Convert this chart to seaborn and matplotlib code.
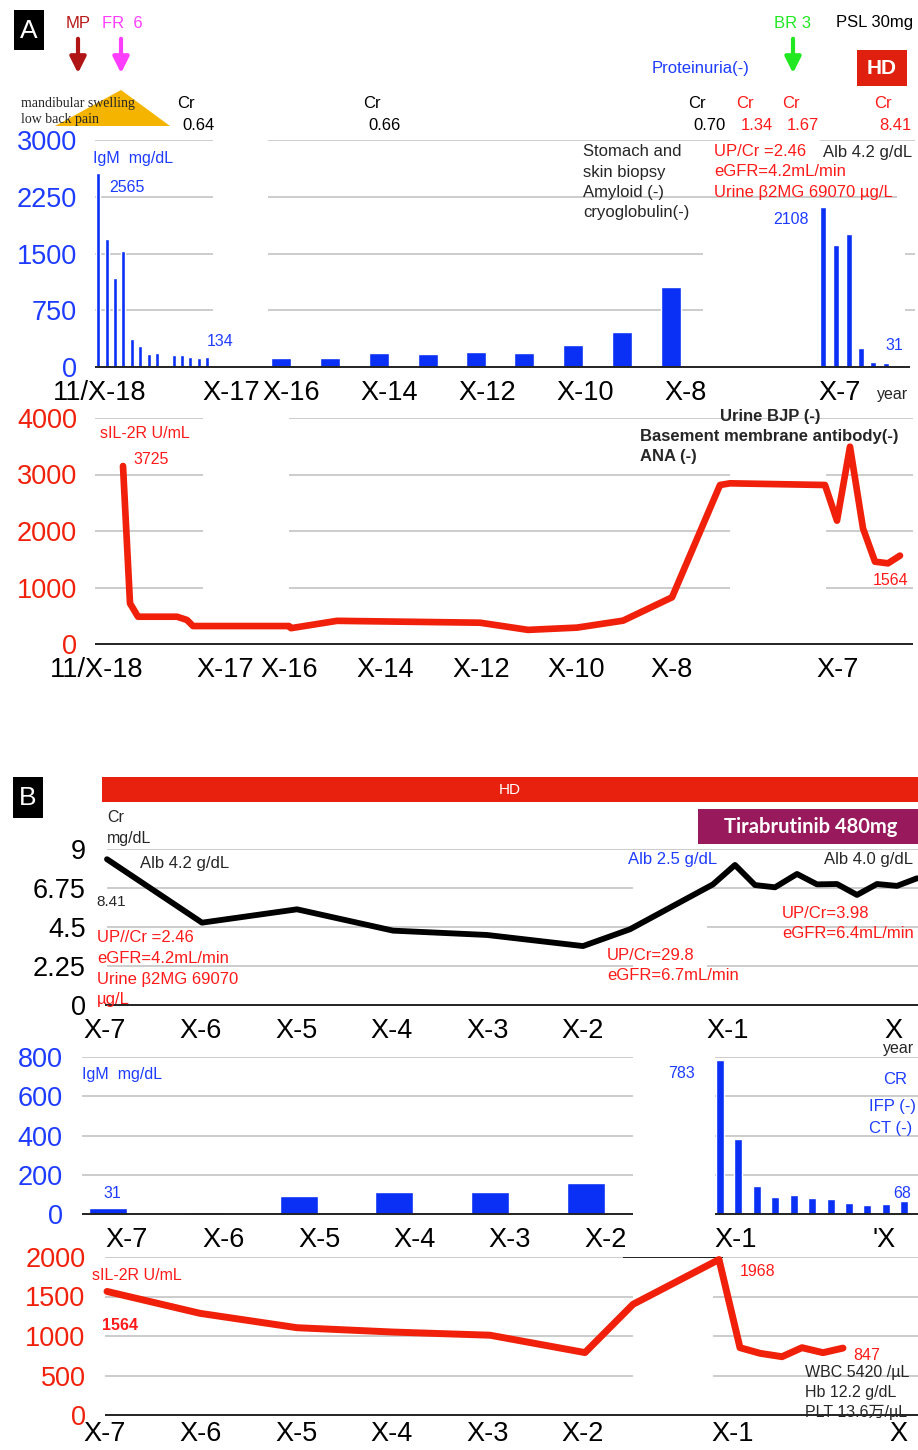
import matplotlib
matplotlib.use("Agg")
import matplotlib.pyplot as plt
from matplotlib.patches import Polygon, Rectangle, FancyArrowPatch
import seaborn as sns
import pandas as pd

W, H = 918, 1450

# ---- panel A : IgM (mg/dL); x = position on the chart's timeline ----
a_igm_early_t = [98, 107, 115, 123, 132, 140, 149, 157, 174, 182, 190, 199, 207]
a_igm_early_v = [2565, 1690, 1170, 1530, 370, 280, 170, 190, 155, 155, 136, 123, 134]
a_igm_year_t = [281, 330, 379, 428, 476, 524, 573, 622, 671]
a_igm_year_v = [125, 125, 185, 170, 200, 185, 290, 460, 1055]
a_igm_late_t = [823, 836, 849, 861, 873, 886, 898]
a_igm_late_v = [2108, 1610, 1760, 250, 70, 50, 31]
a_igm_ticks = [100, 231, 291, 389, 487, 585, 686, 840]
a_igm_ticklabels = ["11/X-18", "X-17", "X-16", "X-14", "X-12", "X-10", "X-8", "X-7"]

# ---- panel A : sIL-2R (U/mL) ----
a_sil_t = [123, 130, 138, 177, 187, 193, 289, 291, 337, 480, 528, 577, 623, 672,
           720, 730, 825, 837, 850, 863, 875, 888, 900]
a_sil_v = [3150, 720, 483, 483, 425, 318, 318, 280, 410, 377, 250, 290, 413, 826,
           2814, 2844, 2814, 2183, 3492, 2047, 1457, 1428, 1564]
a_sil_ticks = [97, 225, 289, 385, 481, 576, 672, 838]
a_sil_ticklabels = ["11/X-18", "X-17", "X-16", "X-14", "X-12", "X-10", "X-8", "X-7"]

# ---- panel B : Cr (mg/dL) ----
b_cr_t = [107, 202, 297, 393, 487, 583, 630, 713, 735, 755, 775, 797, 817, 837, 857, 877, 897, 917]
b_cr_v = [8.41, 4.75, 5.52, 4.29, 4.04, 3.40, 4.37, 6.96, 8.08, 6.92, 6.79, 7.56, 6.96, 6.98,
          6.35, 6.98, 6.87, 7.31]
b_cr_ticks = [105, 201, 297, 392, 488, 583, 728, 893]
b_cr_ticklabels = ["X-7", "X-6", "X-5", "X-4", "X-3", "X-2", "X-1", "X"]

# ---- panel B : IgM (mg/dL) ----
b_igm_year_t = [108, 204, 299, 394, 490, 586]
b_igm_year_v = [31, 12, 93, 110, 112, 160]
b_igm_month_t = [720, 738, 757, 775, 794, 812, 831, 849, 867, 886, 904]
b_igm_month_v = [783, 382, 141, 87, 95, 81, 75, 56, 47, 52, 68]
b_igm_ticks = [127, 224, 320, 415, 510, 606, 736, 884]
b_igm_ticklabels = ["X-7", "X-6", "X-5", "X-4", "X-3", "X-2", "X-1", "'X"]

# ---- panel B : sIL-2R (U/mL) ----
b_sil_t = [107, 200, 297, 393, 490, 585, 633, 719, 740, 760, 782, 802, 823, 843]
b_sil_v = [1564, 1287, 1105, 1050, 1010, 790, 1401, 1968, 852, 781, 738, 852, 789, 847]
b_sil_ticks = [105, 201, 297, 392, 488, 583, 733, 898]
b_sil_ticklabels = ["X-7", "X-6", "X-5", "X-4", "X-3", "X-2", "X-1", "X"]

BLUE = "#0B30F5"
BLUE_T = "#1E3CFF"
RED = "#F0200A"
RED_T = "#FF1A1A"
GRID = "#c4c4c4"
FS = 12

sns.set_theme(style="white")
plt.rcParams["font.family"] = ["Liberation Sans", "Noto Sans CJK JP", "DejaVu Sans"]

fig = plt.figure(figsize=(W / 100, H / 100), dpi=100)


def panel(left, right, top, bottom, ymax, yticks, ylabels, ycolor, ypad, xpad=9.5):
    ax = fig.add_axes([left / W, 1 - bottom / H, (right - left) / W, (bottom - top) / H])
    ax.set_xlim(left, right)
    ax.set_ylim(0, ymax)
    ax.patch.set_alpha(0)
    for s in ax.spines.values():
        s.set_visible(False)
    ax.set_yticks(yticks, ylabels)
    ax.tick_params(axis="y", length=0, pad=ypad, labelsize=19.5, labelcolor=ycolor)
    ax.tick_params(axis="x", length=0, pad=xpad, labelsize=19.5, labelcolor="black")
    ax.grid(False)
    return ax


def grid(ax, segs):
    for level, parts in segs.items():
        for x0, x1 in parts:
            ax.hlines(level, x0, x1, color=GRID, lw=1.2, zorder=0)


def base(ax, parts, color="#222222"):
    for x0, x1 in parts:
        ax.hlines(0, x0, x1, color=color, lw=1.4, zorder=3, clip_on=False)


def txt(x, y, s, **kw):
    kw.setdefault("va", "center")
    kw.setdefault("fontsize", FS)
    fig.text(x / W, 1 - y / H, s, **kw)


def lines(x, y, texts, step=20, **kw):
    for i, s in enumerate(texts):
        txt(x, y + i * step, s, **kw)


def box(x0, y0, x1, y1, color):
    fig.add_artist(Rectangle((x0 / W, 1 - y1 / H), (x1 - x0) / W, (y1 - y0) / H,
                             transform=fig.transFigure, color=color, lw=0))


def arrow(x, y0, y1, color):
    fig.add_artist(FancyArrowPatch((x / W, 1 - y0 / H), (x / W, 1 - y1 / H),
                                   transform=fig.transFigure, arrowstyle="-|>",
                                   mutation_scale=24, lw=3, color=color))


def line_panel(ax, t, v, color, lw):
    sns.lineplot(data=pd.DataFrame({"t": t, "v": v}), x="t", y="v", ax=ax,
                 color=color, lw=lw, clip_on=False, zorder=4)
    ax.set_xlabel("")
    ax.set_ylabel("")


# ================= Panel A : IgM =================
ax1 = panel(95, 915, 140, 367, 3000, [0, 750, 1500, 2250, 3000],
            ["0", "750", "1500", "2250", "3000"], BLUE_T, 13)
grid(ax1, {3000: [(95, 213), (268, 730), (820, 915)],
           2250: [(95, 213), (268, 897)],
           1500: [(95, 213), (268, 703), (905, 915)],
           750: [(95, 213), (268, 703), (905, 915)]})
ax1.bar(a_igm_early_t, a_igm_early_v, width=4, color=BLUE, zorder=2)
ax1.bar(a_igm_year_t, a_igm_year_v, width=20, color=BLUE, zorder=2)
ax1.bar(a_igm_late_t, a_igm_late_v, width=5.5, color=BLUE, zorder=2)
base(ax1, [(95, 910)])
ax1.set_xticks(a_igm_ticks, a_igm_ticklabels)

# ================= Panel A : sIL-2R =================
ax2 = panel(95, 915, 418, 644, 4000, [0, 1000, 2000, 3000, 4000],
            ["0", "1000", "2000", "3000", "4000"], RED, 13)
grid(ax2, {4000: [(95, 203), (289, 913)],
           3000: [(95, 203), (289, 730), (826, 913)],
           2000: [(95, 203), (289, 730), (826, 913)],
           1000: [(95, 203), (289, 730), (826, 913)]})
base(ax2, [(95, 913)])
line_panel(ax2, a_sil_t, a_sil_v, RED, 4.8)
ax2.set_xticks(a_sil_ticks, a_sil_ticklabels)

# ================= Panel B : Cr =================
ax3 = panel(105, 918, 849, 1005, 9, [0, 2.25, 4.5, 6.75, 9],
            ["0", "2.25", "4.5", "6.75", "9"], "black", 14)
grid(ax3, {9: [(107, 918)],
           6.75: [(107, 633), (707, 918)],
           4.5: [(107, 633), (707, 918)],
           2.25: [(107, 633), (707, 918)]})
base(ax3, [(105, 918)])
line_panel(ax3, b_cr_t, b_cr_v, "black", 4.2)
ax3.set_xticks(b_cr_ticks, b_cr_ticklabels)

# ================= Panel B : IgM =================
ax4 = panel(82, 918, 1057, 1214, 800, [0, 200, 400, 600, 800],
            ["0", "200", "400", "600", "800"], BLUE_T, 14)
grid(ax4, {lv: [(82, 633), (715, 918)] for lv in [200, 400, 600, 800]})
ax4.bar(b_igm_year_t, b_igm_year_v, width=38, color=BLUE, zorder=2)
ax4.bar(b_igm_month_t, b_igm_month_v, width=8, color=BLUE, zorder=2)
base(ax4, [(82, 633), (715, 918)])
ax4.set_xticks(b_igm_ticks, b_igm_ticklabels)

# ================= Panel B : sIL-2R =================
ax5 = panel(105, 918, 1257, 1415, 2000, [0, 500, 1000, 1500, 2000],
            ["0", "500", "1000", "1500", "2000"], RED, 14, xpad=4)
grid(ax5, {2000: [(105, 918)],
           1500: [(105, 633), (713, 918)],
           1000: [(105, 633), (713, 918)],
           500: [(105, 633), (713, 918)]})
ax5.hlines(2000, 623, 723, color="#222222", lw=1.4, zorder=1)
base(ax5, [(105, 918)])
line_panel(ax5, b_sil_t, b_sil_v, RED, 5)
ax5.set_xticks(b_sil_ticks, b_sil_ticklabels)

# ================= Panel A annotations =================
box(14, 10, 44, 50, "black")
txt(29, 31, "A", color="white", fontsize=19, ha="center")
txt(78, 23, "MP", color="#B81818", ha="center")
arrow(78, 36, 76, "#B01414")
txt(102, 23, "FR  6", color="#FF3DFF")
arrow(121, 36, 76, "#FF3DFF")
txt(792, 23, "BR 3", color="#22E822", ha="center")
arrow(793, 36, 76, "#22E822")
txt(836, 23, "PSL 30mg", color="black")
box(857, 50, 907, 86, "#E0200E")
txt(882, 68, "HD", color="white", fontsize=15, fontweight="bold", ha="center")
txt(652, 69, "Proteinuria(-)", color=BLUE_T)

fig.add_artist(Polygon([(55 / W, 1 - 126 / H), (121 / W, 1 - 90 / H), (170 / W, 1 - 126 / H)],
                       closed=True, transform=fig.transFigure, color="#F5B400", lw=0))
txt(21, 103, "mandibular swelling", family="Liberation Serif", fontsize=10)
txt(21, 120, "low back pain", family="Liberation Serif", fontsize=10)

for cx, val, col in [(177, "0.64", "black"), (363, "0.66", "black"), (688, "0.70", "black"),
                     (736, "1.34", RED_T), (782, "1.67", RED_T), (874, "8.41", RED_T)]:
    txt(cx, 104, "Cr", color=col)
    txt(cx + 5, 125, val, color=col)

txt(93, 159, "IgM  mg/dL", color=BLUE_T, fontsize=11.5)
txt(109, 187, "2565", color=BLUE_T, fontsize=11.5)
txt(207, 342, "134", color=BLUE_T, fontsize=11.5)
lines(583, 152, ["Stomach and", "skin biopsy", "Amyloid (-)", "cryoglobulin(-)"])
lines(714, 152, ["UP/Cr =2.46", "eGFR=4.2mL/min", "Urine β2MG 69070 µg/L"], color=RED_T)
txt(823, 152, "Alb 4.2 g/dL")
txt(773, 220, "2108", color=BLUE_T, fontsize=11.5)
txt(885, 345, "31", color=BLUE_T, fontsize=11.5)
txt(877, 394, "year", fontsize=11.5)

txt(100, 434, "sIL-2R U/mL", color=RED_T, fontsize=11.5)
txt(133, 460, "3725", color=RED_T, fontsize=11.5)
txt(720, 416, "Urine BJP (-)", fontweight="bold")
txt(640, 436, "Basement membrane antibody(-)", fontweight="bold")
txt(640, 457, "ANA (-)", fontweight="bold")
txt(873, 581, "1564", color=RED_T, fontsize=11.5)

# ================= Panel B annotations =================
box(13, 777, 43, 818, "black")
txt(28, 798, "B", color="white", fontsize=19, ha="center")
box(102, 777, 918, 802, "#E8200E")
txt(510, 790, "HD", color="white", fontsize=11, ha="center")
box(698, 809, 918, 844, "#991A5C")
txt(811, 827, "Tirabrutinib 480mg", color="white", fontsize=14.5, family="Lato",
    fontweight="bold", ha="center")

lines(107, 818, ["Cr", "mg/dL"], step=21, fontsize=11.5)
txt(140, 864, "Alb 4.2 g/dL")
txt(96, 902, "8.41", fontsize=11)
lines(97, 938, ["UP//Cr =2.46", "eGFR=4.2mL/min", "Urine β2MG 69070", "µg/L"], step=20.6,
      color=RED_T)
txt(628, 859, "Alb 2.5 g/dL", color=BLUE_T)
txt(824, 859, "Alb 4.0 g/dL")
lines(607, 956, ["UP/Cr=29.8", "eGFR=6.7mL/min"], color=RED_T)
lines(782, 914, ["UP/Cr=3.98", "eGFR=6.4mL/min"], step=19.5, color=RED_T)

txt(82, 1075, "IgM  mg/dL", color=BLUE_T, fontsize=11.5)
txt(103, 1193, "31", color=BLUE_T, fontsize=11.5)
txt(668, 1073, "783", color=BLUE_T, fontsize=11.5)
txt(883, 1049, "year", fontsize=11.5)
txt(883, 1079, "CR", color=BLUE_T)
txt(869, 1107, "IFP (-)", color=BLUE_T)
txt(869, 1128, "CT (-)", color=BLUE_T)
txt(893, 1193, "68", color=BLUE_T, fontsize=11.5)

txt(92, 1276, "sIL-2R U/mL", color=RED_T, fontsize=11.5)
txt(102, 1326, "1564", color=RED_T, fontsize=11.5, fontweight="bold")
txt(740, 1271, "1968", color=RED_T, fontsize=11.5)
txt(853, 1355, "847", color=RED_T, fontsize=11.5)
lines(805, 1373, ["WBC 5420 /µL", "Hb 12.2 g/dL", "PLT 13.6万/µL"], step=19.5, fontsize=11.5)

fig.savefig("out.png", dpi=100)
